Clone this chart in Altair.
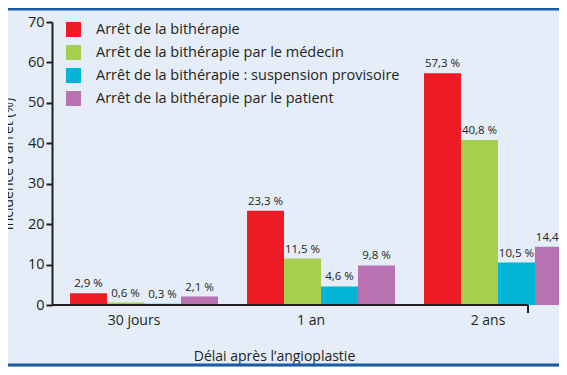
import altair as alt
import pandas as pd

periods = ["30 jours", "1 an", "2 ans"]
series = [
    "Arrêt de la bithérapie",
    "Arrêt de la bithérapie par le médecin",
    "Arrêt de la bithérapie : suspension provisoire",
    "Arrêt de la bithérapie par le patient",
]
values_total = [2.9, 23.3, 57.3]
values_medecin = [0.6, 11.5, 40.8]
values_suspension = [0.3, 4.6, 10.5]
values_patient = [2.1, 9.8, 14.4]
colors = ["#ED1C24", "#A6CF4D", "#00B6D4", "#B872B1"]
y_ticks = [0, 10, 20, 30, 40, 50, 60, 70]

rows = []
for s, vals in zip(series, [values_total, values_medecin, values_suspension, values_patient]):
    for p, v in zip(periods, vals):
        rows.append({"periode": p, "serie": s, "valeur": v,
                     "label": f"{v:.1f}".replace(".", ",") + " %"})
df = pd.DataFrame(rows)

FONT = "Open Sans"
TXT = "#231F20"
BG = "#E5EDF8"
BORDER = "#1B5AA6"

x = alt.X("periode:N", sort=periods,
          scale=alt.Scale(range=[0, 538], paddingInner=0.164, paddingOuter=0.102),
          axis=alt.Axis(title="Délai après l’angioplastie", domain=False, ticks=False,
                        labelAngle=0, labelFontSize=14, labelPadding=8, labelOffset=-10,
                        labelColor=TXT, labelFont=FONT,
                        titleFontSize=14, titleFontWeight="normal", titleColor=TXT,
                        titleFont=FONT, titleX=222, titleY=51, titleBaseline="middle"))
xo = alt.XOffset("serie:N", sort=series, scale=alt.Scale(paddingInner=0, paddingOuter=0))
y = alt.Y("valeur:Q", scale=alt.Scale(domain=[0, 70], nice=False),
          axis=alt.Axis(values=y_ticks, title="Incidence d’arrêt (%)", grid=False,
                        labelFontSize=14.5, labelFont=FONT, labelColor=TXT, labelPadding=2,
                        tickSize=6, tickWidth=2, tickColor=TXT,
                        domainColor=TXT, domainWidth=2,
                        titleFontSize=14, titleFontWeight="normal", titleFont=FONT,
                        titleColor=TXT, titleX=-37))
color = alt.Color("serie:N", sort=series,
                  scale=alt.Scale(domain=series, range=colors),
                  legend=alt.Legend(title=None, orient="none", legendX=14, legendY=0,
                                    symbolType="square", symbolSize=225, symbolStrokeWidth=0,
                                    symbolOpacity=1, labelLimit=500,
                                    labelFontSize=14.5, labelFont=FONT, labelColor=TXT,
                                    labelOffset=15, rowPadding=7, padding=0))

base = alt.Chart(df)
bars = base.mark_bar(clip=True).encode(x=x, xOffset=xo, y=y, color=color)
labels = base.mark_text(clip=True, baseline="alphabetic", dy=-6, fontSize=11.5,
                        font=FONT, color=TXT).encode(x=x, xOffset=xo, y=y, text="label:N")

one = alt.Data(values=[{}])
axis_line = alt.Chart(one).mark_rule(color=TXT, strokeWidth=2).encode(
    x=alt.value(0), x2=alt.value(476), y=alt.value(283))
axis_tick = alt.Chart(one).mark_rule(color=TXT, strokeWidth=2).encode(
    x=alt.value(476), y=alt.value(283), y2=alt.value(291))
top_border = alt.Chart(one).mark_rule(color=BORDER, strokeWidth=3).encode(
    x=alt.value(-44), x2=alt.value(507), y=alt.value(-13))
bottom_border = alt.Chart(one).mark_rule(color=BORDER, strokeWidth=3).encode(
    x=alt.value(-44), x2=alt.value(507), y=alt.value(343))

chart = alt.layer(bars, labels, axis_line, axis_tick, top_border, bottom_border).properties(
    width=507, height=283,
    padding={"left": 44, "top": 14, "right": 0, "bottom": 62},
    autosize=alt.AutoSizeParams(type="none"),
).configure(background=BG).configure_view(stroke=None)

chart.save("out.html", embed_options={"renderer": "svg", "actions": False})
